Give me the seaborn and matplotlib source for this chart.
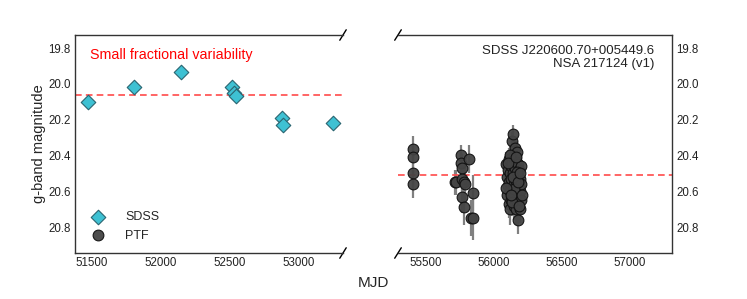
import numpy as np
import pandas as pd
import matplotlib
matplotlib.use("Agg")
import matplotlib.pyplot as plt
import seaborn as sns

# ---- data ----
sdss_mjd = [51471, 51809, 52148, 52522, 52532, 52548, 52882, 52890, 53249]
sdss_mag = [20.10, 20.016, 19.932, 20.02, 20.05, 20.068, 20.19, 20.23, 20.22]
sdss_err = [0.03, 0.02, 0.02, 0.02, 0.02, 0.03, 0.03, 0.03, 0.03]

ptf_mjd = [55409, 55409, 55409, 55409,
           55715, 55725, 55757, 55762, 55770, 55765, 55784, 55790, 55768, 55778, 55818, 55845, 55830, 55848,
           56090, 56096, 56100, 56104, 56108, 56110, 56112, 56115, 56118, 56120, 56122, 56125,
           56128, 56130, 56132, 56135, 56138, 56140, 56142, 56145, 56148, 56150, 56152, 56155,
           56158, 56160, 56162, 56165, 56168, 56170, 56172, 56175, 56178, 56180, 56182, 56185,
           56188, 56190, 56192, 56195, 56198, 56200, 56203, 56118, 56135, 56150, 56170, 56185,
           56092, 56102, 56126, 56144, 56160, 56178, 56196, 56205]
ptf_mag = [20.364, 20.41, 20.50, 20.558,
           20.55, 20.55, 20.40, 20.44, 20.47, 20.53, 20.55, 20.56, 20.63, 20.69, 20.42, 20.61, 20.75, 20.75,
           20.45, 20.52, 20.62, 20.48, 20.57, 20.67, 20.42, 20.55, 20.70, 20.50, 20.60, 20.46,
           20.53, 20.65, 20.32, 20.44, 20.58, 20.28, 20.50, 20.68, 20.40, 20.56, 20.62, 20.36,
           20.47, 20.70, 20.54, 20.43, 20.60, 20.38, 20.66, 20.51, 20.76, 20.45, 20.57, 20.63,
           20.48, 20.70, 20.53, 20.60, 20.46, 20.56, 20.65, 20.40, 20.66, 20.59, 20.49, 20.68,
           20.58, 20.44, 20.62, 20.52, 20.41, 20.55, 20.50, 20.62]
ptf_err = [0.07, 0.07, 0.08, 0.08,
           0.07, 0.07, 0.06, 0.07, 0.08, 0.08, 0.08, 0.09, 0.09, 0.10, 0.08, 0.10, 0.10, 0.12,
           0.07, 0.07, 0.08, 0.06, 0.07, 0.08, 0.06, 0.07, 0.09, 0.07, 0.08, 0.06,
           0.07, 0.08, 0.05, 0.06, 0.07, 0.05, 0.07, 0.08, 0.06, 0.07, 0.08, 0.06,
           0.07, 0.09, 0.07, 0.06, 0.08, 0.06, 0.08, 0.07, 0.08, 0.06, 0.07, 0.08,
           0.07, 0.08, 0.07, 0.08, 0.07, 0.07, 0.08, 0.06, 0.08, 0.07, 0.07, 0.08,
           0.08, 0.07, 0.08, 0.07, 0.06, 0.07, 0.07, 0.08]

sdss_mean = 20.062
ptf_mean = 20.51
yticks = [19.8, 20.0, 20.2, 20.4, 20.6, 20.8]
left_xticks = [51500, 52000, 52500, 53000]
right_xticks = [55500, 56000, 56500, 57000]

sns.set_style("white")
plt.rcParams['font.family'] = ['Liberation Sans', 'DejaVu Sans']

fig = plt.figure(figsize=(7.47, 2.99), dpi=100)
ax1 = fig.add_axes([75/747, 1-253/299, 268/747, 218/299])
ax2 = fig.add_axes([398/747, 1-253/299, 274/747, 218/299])

sdss_df = pd.DataFrame({"mjd": sdss_mjd, "mag": sdss_mag, "survey": "SDSS"})
ptf_df = pd.DataFrame({"mjd": ptf_mjd, "mag": ptf_mag, "survey": "PTF"})

cyan = "#3ec1d3"
dark = "#444444"

for ax in (ax1, ax2):
    ax.errorbar(ptf_mjd, ptf_mag, yerr=ptf_err, fmt="none", ecolor="#808080", elinewidth=1.6, zorder=1)
    ax.errorbar(sdss_mjd, sdss_mag, yerr=sdss_err, fmt="none", ecolor="#444444", elinewidth=1.2, zorder=1)
    sns.scatterplot(data=sdss_df, x="mjd", y="mag", ax=ax, marker="D", s=55, color=cyan,
                    edgecolor="#2a6470", linewidth=0.8, zorder=3, label="SDSS" if ax is ax1 else None)
    sns.scatterplot(data=ptf_df, x="mjd", y="mag", ax=ax, marker="o", s=60, color=dark,
                    edgecolor="#111111", linewidth=0.8, alpha=0.95, zorder=3, label="PTF" if ax is ax1 else None)
    ax.set_ylim(20.945, 19.727)
    ax.set_yticks(yticks)
    ax.set_yticklabels([f"{v:.1f}" for v in yticks])
    ax.set_xlabel("")
    ax.set_ylabel("")
    ax.tick_params(labelsize=8.3, colors="#222222", length=0, pad=3)
    for s in ax.spines.values():
        s.set_color("#333333")
        s.set_linewidth(1.0)

ax1.axhline(sdss_mean, color="#ff4a4a", ls=(0, (4, 2.5)), lw=1.2, zorder=2)
ax2.axhline(ptf_mean, color="#ff4a4a", ls=(0, (4, 2.5)), lw=1.2, zorder=2)

ax1.set_xlim(51379, 53324)
ax2.set_xlim(55297, 57308)
ax1.set_xticks(left_xticks)
ax2.set_xticks(right_xticks)

ax1.spines['right'].set_visible(False)
ax2.spines['left'].set_visible(False)
ax2.yaxis.tick_right()
ax1.set_ylabel("g-band magnitude", fontsize=10.5, labelpad=2)

# break marks
d = 0.012
kw = dict(color="k", clip_on=False, lw=1.0)
ax1.plot((1 - d, 1 + d), (1 - 2*d, 1 + 2*d), transform=ax1.transAxes, **kw)
ax1.plot((1 - d, 1 + d), (-2*d, 2*d), transform=ax1.transAxes, **kw)
ax2.plot((-d, d), (1 - 2*d, 1 + 2*d), transform=ax2.transAxes, **kw)
ax2.plot((-d, d), (-2*d, 2*d), transform=ax2.transAxes, **kw)

ax1.text(0.057, 0.94, "Small fractional variability", color="red", fontsize=10.3,
         transform=ax1.transAxes, ha="left", va="top")
ax2.text(0.935, 0.955, "SDSS J220600.70+005449.6\nNSA 217124 (v1)", color="#222222", fontsize=9.5,
         transform=ax2.transAxes, ha="right", va="top", linespacing=1.1)

leg = ax1.legend(loc="lower left", frameon=False, fontsize=9, handletextpad=1.2,
                 borderaxespad=0.3, bbox_to_anchor=(0.005, 0.012))

fig.text(373/747, 1-283/299, "MJD", ha="center", va="center", fontsize=11)

fig.savefig("out.png", dpi=100)
